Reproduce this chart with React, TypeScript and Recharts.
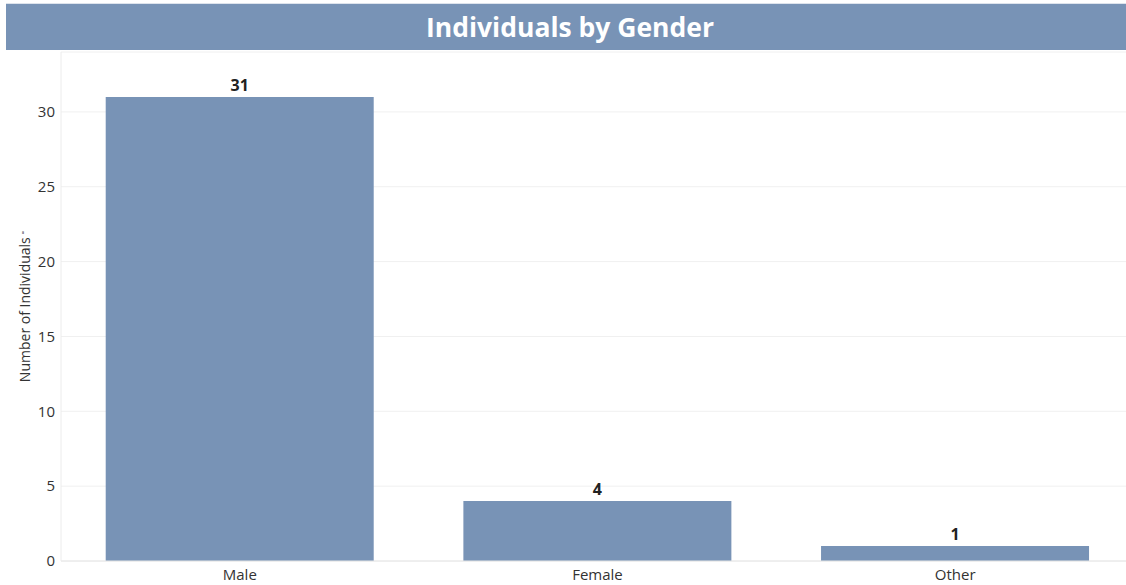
import { BarChart, Bar, XAxis, YAxis, CartesianGrid, LabelList } from "recharts";

const categories = ["Male", "Female", "Other"];
const counts = [31, 4, 1];
const yTicks = [0, 5, 10, 15, 20, 25, 30];

const data = categories.map((name, i) => ({ name, count: counts[i] }));

const BAR_COLOR = "#7893b6";
const FONT = "'Open Sans', sans-serif";

const YLabel = (props: any) => {
  const vb = props.viewBox || {};
  const cx = 24;
  const cy = (vb.y ?? 0) + (vb.height ?? 0) / 2;
  return (
    <text
      x={cx}
      y={cy}
      transform={`rotate(-90, ${cx}, ${cy})`}
      textAnchor="middle"
      dominantBaseline="central"
      fontFamily={FONT}
      fontSize={14}
      fill="#333"
    >
      Number of Individuals
      <tspan fontSize={10} dx={3}>⁼</tspan>
    </text>
  );
};

const App = () => {
  return (
    <div
      style={{
        position: "absolute",
        left: 0,
        top: 0,
        width: 1126,
        height: 585,
        overflow: "hidden",
        background: "#fff",
        fontFamily: FONT,
      }}
    >
      <div
        style={{
          position: "absolute",
          left: 6,
          top: 3,
          width: 1120,
          height: 47,
          background: BAR_COLOR,
          borderTop: "1px solid #dde3ec",
          boxSizing: "border-box",
          color: "#fff",
          fontWeight: 700,
          fontSize: 26.5,
          display: "flex",
          alignItems: "center",
          justifyContent: "center",
          paddingLeft: 8,
        }}
      >
        Individuals by Gender
      </div>
      <div style={{ position: "absolute", left: 0, top: 0 }}>
        <BarChart
          width={1134}
          height={585}
          data={data}
          margin={{ top: 52, right: 0, left: 0, bottom: 0 }}
          barCategoryGap="12.5%"
        >
          <CartesianGrid vertical={false} stroke="#f0f0f0" />
          <XAxis
            dataKey="name"
            height={24}
            tickLine={false}
            axisLine={{ stroke: "#e6e6e6" }}
            tick={{ fontSize: 15, fill: "#333", fontFamily: FONT }}
            tickMargin={2}
          />
          <YAxis
            width={61}
            domain={[0, 34]}
            ticks={yTicks}
            tickLine={false}
            axisLine={{ stroke: "#ececec" }}
            tick={{ fontSize: 15, fill: "#333", fontFamily: FONT }}
            tickMargin={0}
            label={<YLabel />}
          />
          <Bar dataKey="count" fill={BAR_COLOR} isAnimationActive={false}>
            <LabelList
              dataKey="count"
              position="top"
              offset={6}
              style={{ fontSize: 16, fontWeight: 700, fill: "#222", fontFamily: FONT }}
            />
          </Bar>
        </BarChart>
      </div>
    </div>
  );
};

export default App;
